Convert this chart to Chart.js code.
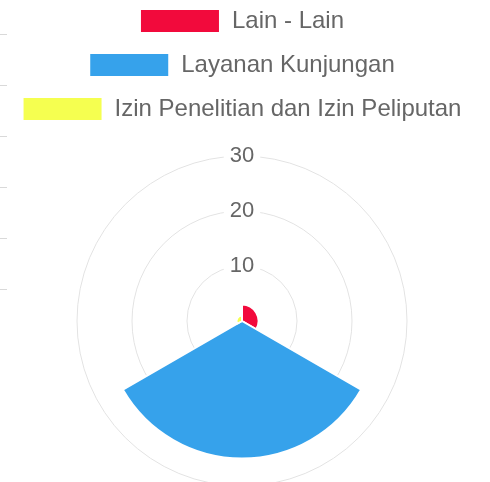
<!DOCTYPE html>
<html>
<head>
<meta charset="utf-8">
<script src="https://cdn.jsdelivr.net/npm/chart.js@4.4.0/dist/chart.umd.min.js"></script>
<style>
    body { margin: 0; overflow: hidden; background: #fff; }
    #wrap { position: relative; top: -11px; width: 484px; }
    /* bit of the neighbouring chart peeking in on the left */
    #edge { position: absolute; left: 0; top: 34px; width: 7px; height: 260px;
            background: repeating-linear-gradient(to bottom, #d9d9d9 0, #d9d9d9 1px, transparent 1px, transparent 51px); }
</style>
</head>
<body>
<div id="edge"></div>
<div id="wrap">
    <canvas id="layananChart" width="484" height="522"></canvas>
</div>
<script>
// data
const kategori = ['Lain - Lain', 'Layanan Kunjungan', 'Izin Penelitian dan Izin Peliputan'];
const jumlah = [3, 25, 1];
const warna = ['#f20a3c', '#36a2eb', '#f5ff50'];
const tickLabels = [10, 20, 30];

const ctx = document.getElementById('layananChart').getContext('2d');

const layananChart = new Chart(ctx, {
    type: 'polarArea',
    data: {
        labels: kategori,
        datasets: [{
            data: jumlah,
            backgroundColor: warna,
            borderColor: '#fff',
            borderWidth: 2
        }]
    },
    options: {
        responsive: false,
        animation: false,
        scales: {
            r: {
                min: 0,
                max: tickLabels[tickLabels.length - 1],
                afterBuildTicks: function (scale) {
                    scale.ticks = [0].concat(tickLabels).map(v => ({ value: v }));
                },
                grid: { color: '#e3e3e3' },
                ticks: {
                    color: '#666',
                    font: { family: 'Liberation Sans, Arial, sans-serif', size: 22 },
                    backdropColor: '#fff',
                    // tall backdrop also pads the scale so the rings come out the right size
                    backdropPadding: { x: 6, y: 14 }
                }
            }
        },
        plugins: {
            legend: {
                display: true,
                position: 'top',
                labels: {
                    color: '#666',
                    font: { family: 'Liberation Sans, Arial, sans-serif', size: 24 },
                    boxWidth: 80,
                    boxHeight: 24,
                    padding: 20
                }
            },
            tooltip: { enabled: false }
        }
    }
});
</script>
</body>
</html>
